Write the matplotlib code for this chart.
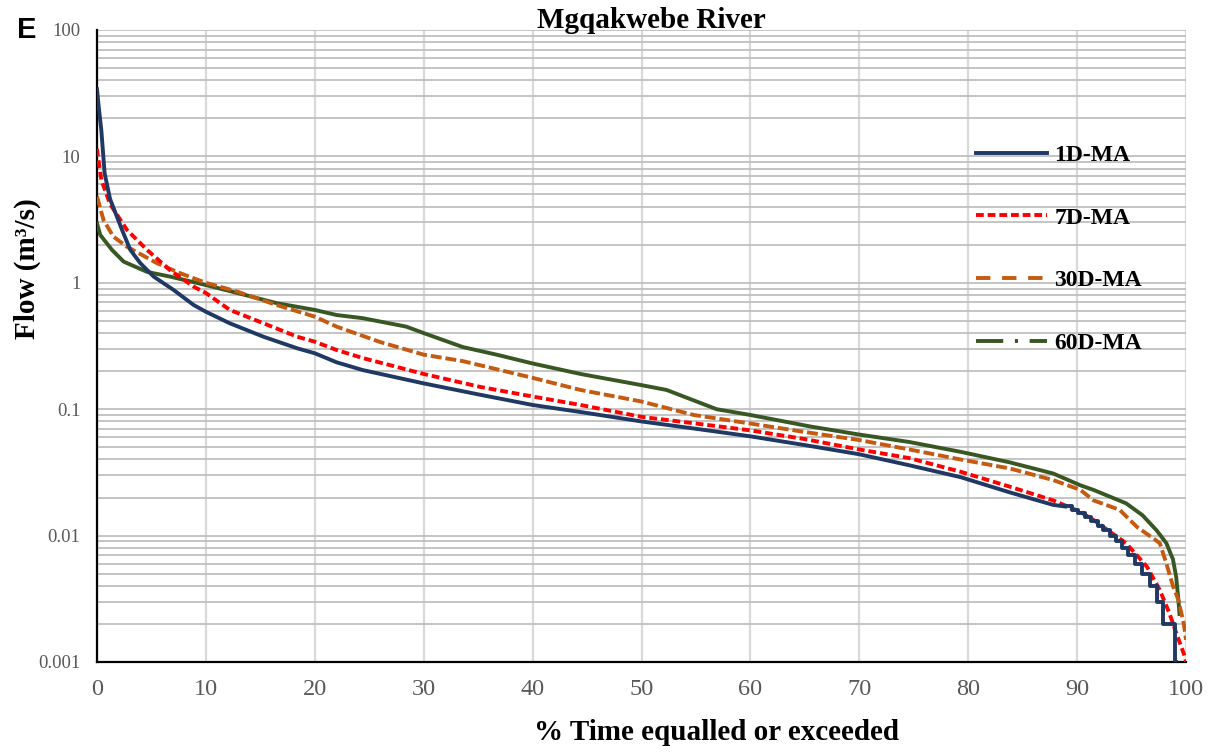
import matplotlib
matplotlib.use("Agg")
import matplotlib.pyplot as plt
from matplotlib.lines import Line2D
from matplotlib.ticker import FixedLocator, FixedFormatter, LogLocator, NullFormatter

# ---------------- data ----------------
title = "Mgqakwebe River"
x_label = "% Time equalled or exceeded"
y_label = "Flow (m³/s)"
panel_letter = "E"
series_names = ["1D-MA", "7D-MA", "30D-MA", "60D-MA"]

pct_1d = [0, 0.15, 0.4, 0.7, 1.2, 2.3, 3.06, 3.98, 5.2, 7.04, 8.88, 10, 12.2, 15.3, 18.4,
          20, 22, 24.4, 30, 35.2, 40, 44.4, 50, 55, 60, 65, 70, 74.6, 79.3, 83.8, 87.8, 88.9]
flow_1d = [34, 25, 16, 7.35, 4.6, 2.62, 1.82, 1.43, 1.12, 0.877, 0.667, 0.59, 0.478, 0.374,
           0.303, 0.277, 0.235, 0.204, 0.16, 0.13, 0.108, 0.095, 0.08, 0.07, 0.061, 0.052,
           0.044, 0.036, 0.029, 0.022, 0.0175, 0.017]
# stepped low-flow tail of the 1-day series
pct_1d_tail = [88.9, 89.5, 90.1, 90.7, 91.3, 91.9, 92.4, 93.0, 93.6, 94.1, 94.7, 95.3,
               96.0, 96.7, 97.3, 97.9, 99.0, 99.1]
flow_1d_tail = [0.017, 0.016, 0.015, 0.014, 0.013, 0.012, 0.011, 0.010, 0.009, 0.008, 0.007,
                0.006, 0.005, 0.004, 0.003, 0.002, 0.001, 0.001]

pct_7d = [0, 0.05, 0.4, 1.2, 2.75, 4.6, 6.7, 8.9, 10, 12.2, 15.3, 18.4, 20, 22, 24.4, 30,
          35.2, 40, 44.4, 50, 55, 60, 65, 70, 74.6, 79.3, 83.8, 87.8, 90.3, 91.5, 94.5,
          96.4, 97.6, 98.5, 99.1, 99.9, 100]
flow_7d = [11.5, 10.5, 6.5, 4.2, 2.62, 1.82, 1.26, 0.93, 0.83, 0.61, 0.478, 0.374, 0.342,
           0.294, 0.254, 0.19, 0.15, 0.126, 0.108, 0.087, 0.077, 0.068, 0.058, 0.048, 0.041,
           0.032, 0.0244, 0.019, 0.0154, 0.0133, 0.0087, 0.0057, 0.0037, 0.0024, 0.0017,
           0.0011, 0.001]

pct_30d = [0, 0.05, 0.3, 0.6, 1.5, 2.75, 5.5, 7.65, 10, 12.9, 16.5, 20, 22, 26, 30, 33.6,
           40, 44.4, 50, 54.8, 60, 65, 70, 74.6, 79.3, 83.8, 87.8, 90.3, 91.5, 93.9, 95.5,
           97.0, 97.6, 98.2, 98.8, 99.3, 99.8, 100]
flow_30d = [4.8, 4.66, 3.88, 3.14, 2.32, 1.93, 1.43, 1.19, 1.0, 0.85, 0.667, 0.54, 0.45,
            0.34, 0.27, 0.24, 0.177, 0.142, 0.115, 0.09, 0.077, 0.066, 0.057, 0.048, 0.040,
            0.034, 0.0275, 0.023, 0.019, 0.016, 0.0117, 0.0095, 0.0087, 0.006, 0.004,
            0.0031, 0.002, 0.0015]

pct_60d = [0, 0.3, 1.38, 2.45, 4.6, 6.7, 10, 12.9, 16.5, 20, 22, 24.4, 28.4, 30, 33.6,
           36.7, 40, 44.4, 50, 52.3, 56.9, 60, 65.5, 70, 74.6, 79.3, 83.8, 87.8, 90.3,
           91.5, 94.5, 96.0, 97.3, 98.2, 98.8, 99.1, 99.3, 99.4]
flow_60d = [2.95, 2.39, 1.82, 1.47, 1.22, 1.12, 0.96, 0.83, 0.69, 0.61, 0.556, 0.525, 0.45,
            0.40, 0.31, 0.27, 0.23, 0.19, 0.155, 0.142, 0.10, 0.09, 0.073, 0.063, 0.055,
            0.046, 0.038, 0.031, 0.025, 0.023, 0.018, 0.0145, 0.011, 0.0087, 0.0065,
            0.0047, 0.0031, 0.0024]

x_ticks = [0, 10, 20, 30, 40, 50, 60, 70, 80, 90, 100]
x_tick_labels = ["0", "10", "20", "30", "40", "50", "60", "70", "80", "90", "100"]
y_ticks = [0.001, 0.01, 0.1, 1, 10, 100]
y_tick_labels = ["0.001", "0.01", "0.1", "1", "10", "100"]

# ---------------- styling ----------------
c_1d = "#1F3864"
c_7d = "#FF0000"
c_30d = "#C55A11"
c_60d = "#385723"
serif = ["Liberation Serif", "DejaVu Serif"]
lw = 2.8
ls_7d = (0, (2.0, 1.0))
ls_30d = (0, (2.8, 1.0))

fig = plt.figure(figsize=(12.2, 7.53), dpi=100)
ax = fig.add_axes([97 / 1220, 1 - 662 / 753, (1186 - 97) / 1220, (662 - 30) / 753])

ax.plot(pct_60d, flow_60d, color=c_60d, lw=lw, solid_joinstyle="round", zorder=3)
ax.plot(pct_30d, flow_30d, color=c_30d, lw=lw, linestyle=ls_30d, zorder=4)
ax.plot(pct_7d, flow_7d, color=c_7d, lw=lw, linestyle=ls_7d, zorder=5)
ax.plot(pct_1d, flow_1d, color=c_1d, lw=lw, solid_joinstyle="round", zorder=6)
ax.plot(pct_1d_tail, flow_1d_tail, color=c_1d, lw=lw, drawstyle="steps-post", zorder=6)

ax.set_yscale("log")
ax.set_xlim(0, 100)
ax.set_ylim(0.001, 100)

ax.xaxis.set_major_locator(FixedLocator(x_ticks))
ax.xaxis.set_major_formatter(FixedFormatter(x_tick_labels))
ax.yaxis.set_major_locator(FixedLocator(y_ticks))
ax.yaxis.set_major_formatter(FixedFormatter(y_tick_labels))
ax.yaxis.set_minor_locator(LogLocator(base=10, subs=range(2, 10)))
ax.yaxis.set_minor_formatter(NullFormatter())

ax.tick_params(axis="both", which="both", length=0)
ax.tick_params(axis="x", pad=12)
ax.tick_params(axis="y", pad=12)
for lab in ax.get_xticklabels():
    lab.set_fontfamily(serif)
    lab.set_fontsize(17.5)
    lab.set_color("#595959")
for lab in ax.get_yticklabels():
    lab.set_fontfamily(serif)
    lab.set_fontsize(13.5)
    lab.set_color("#595959")

ax.grid(axis="x", which="major", color="#D9D9D9", lw=1.6, zorder=0)
ax.grid(axis="y", which="both", color="#BFBFBF", lw=1.3, zorder=0)
ax.set_axisbelow(True)

for s in ["top", "right"]:
    ax.spines[s].set_visible(False)
for s in ["left", "bottom"]:
    ax.spines[s].set_color("black")
    ax.spines[s].set_linewidth(1.6)

fig.text(717 / 1220, 1 - 733 / 753, x_label, ha="center", va="center", fontfamily=serif,
         fontweight="bold", fontsize=21)
fig.text(27 / 1220, 1 - 269 / 753, y_label, ha="center", va="center", rotation=90,
         fontfamily=serif, fontweight="bold", fontsize=21)
fig.text(651 / 1220, 1 - 21 / 753, title, ha="center", va="center", fontfamily=serif,
         fontweight="bold", fontsize=21)
fig.text(17 / 1220, 1 - 30 / 753, panel_letter, ha="left", va="center",
         fontfamily=["Liberation Sans", "DejaVu Sans"], fontweight="bold", fontsize=21)

handles = [
    Line2D([], [], color=c_1d, lw=lw),
    Line2D([], [], color=c_7d, lw=lw, linestyle=ls_7d),
    Line2D([], [], color=c_30d, lw=lw, linestyle=(0, (3.7, 3.0))),
    Line2D([], [], color=c_60d, lw=lw, linestyle=(0, (7.0, 3.0, 0.8, 3.0))),
]
leg = ax.legend(handles, series_names, loc="upper left",
                bbox_to_anchor=(955 / 1220, 1 - 123 / 753), bbox_transform=fig.transFigure,
                frameon=False, handlelength=3.0, handletextpad=0.3, labelspacing=1.75,
                prop={"family": serif, "weight": "bold", "size": 17})

fig.savefig("out.png", dpi=100)
